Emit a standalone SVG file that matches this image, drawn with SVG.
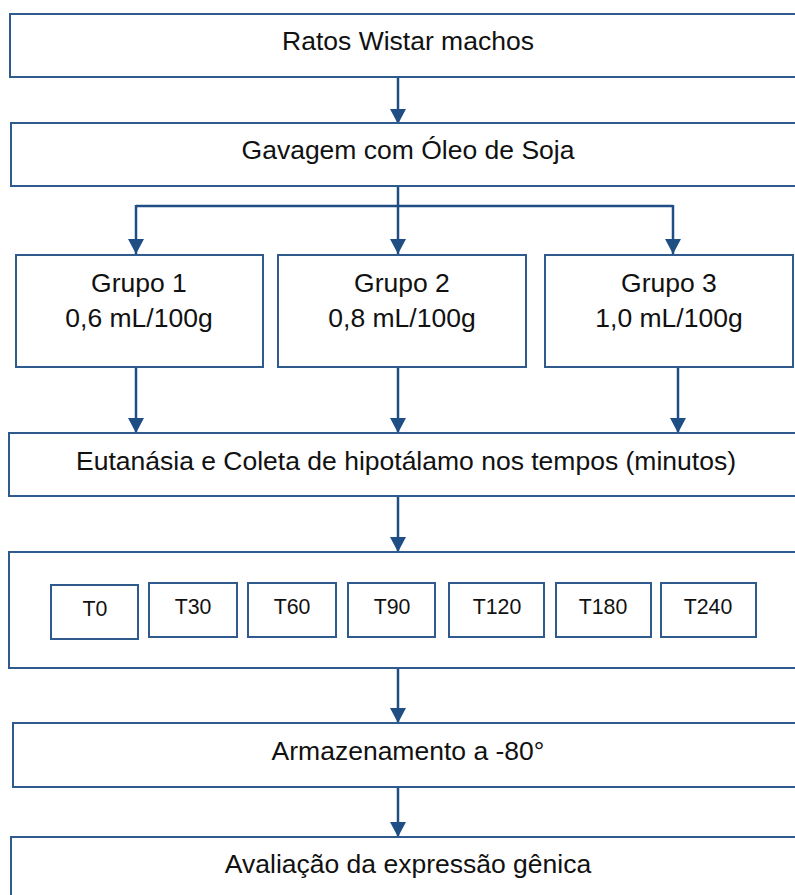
<svg xmlns="http://www.w3.org/2000/svg" width="795" height="895" viewBox="0 0 795 895">
<style>
.box{fill:#fff;stroke:#2f5a8e;stroke-width:2}
.tb{fill:#fff;stroke:#2f5a8e;stroke-width:2}
.lbl{font-family:"Liberation Sans",Arial,sans-serif;font-size:26.5px;fill:#111;text-anchor:middle}
.tl{font-family:"Liberation Sans",Arial,sans-serif;font-size:21.3px;fill:#111;text-anchor:middle}
.con{fill:none;stroke:#1f4e85;stroke-width:2.5}
</style>
<defs>
<marker id="ah" markerUnits="userSpaceOnUse" markerWidth="16" markerHeight="16" refX="15" refY="8" orient="auto">
<path d="M0,0 L15,8 L0,16 z" fill="#1f4e85"/>
</marker>
</defs>
<rect width="795" height="895" fill="#fff"/>
<g id="connectors">
<line class="con" x1="398" y1="77" x2="398" y2="124" marker-end="url(#ah)"/>
<polyline class="con" points="398,186 398,206"/>
<polyline class="con" points="136,206 673,206"/>
<line class="con" x1="136" y1="205" x2="136" y2="254" marker-end="url(#ah)"/>
<line class="con" x1="398" y1="205" x2="398" y2="254" marker-end="url(#ah)"/>
<line class="con" x1="673" y1="205" x2="673" y2="254" marker-end="url(#ah)"/>
<line class="con" x1="136" y1="367" x2="136" y2="433" marker-end="url(#ah)"/>
<line class="con" x1="398" y1="367" x2="398" y2="433" marker-end="url(#ah)"/>
<line class="con" x1="678" y1="367" x2="678" y2="433" marker-end="url(#ah)"/>
<line class="con" x1="398" y1="496" x2="398" y2="552" marker-end="url(#ah)"/>
<line class="con" x1="398" y1="668" x2="398" y2="723" marker-end="url(#ah)"/>
<line class="con" x1="398" y1="787" x2="398" y2="837" marker-end="url(#ah)"/>
</g>
<g id="ratos"><rect class="box" x="10" y="14" width="796" height="63"/><text class="lbl" x="408" y="50">Ratos Wistar machos</text></g>
<g id="gavagem"><rect class="box" x="11" y="123" width="796" height="63"/><text class="lbl" x="408" y="159">Gavagem com Óleo de Soja</text></g>
<g id="grupo1"><rect class="box" x="16" y="255" width="247" height="112"/><text class="lbl" x="139" y="292">Grupo 1</text><text class="lbl" x="139" y="327">0,6 mL/100g</text></g>
<g id="grupo2"><rect class="box" x="278" y="255" width="248" height="112"/><text class="lbl" x="402" y="292">Grupo 2</text><text class="lbl" x="402" y="327">0,8 mL/100g</text></g>
<g id="grupo3"><rect class="box" x="545" y="255" width="248" height="112"/><text class="lbl" x="669" y="292">Grupo 3</text><text class="lbl" x="669" y="327">1,0 mL/100g</text></g>
<g id="eutanasia"><rect class="box" x="9" y="433" width="797" height="63"/><text class="lbl" x="406" y="470">Eutanásia e Coleta de hipotálamo nos tempos (minutos)</text></g>
<g id="tempos"><rect class="box" x="9" y="552" width="797" height="116"/></g>
<g id="t0"><rect class="tb" x="51" y="585" width="87" height="54"/><text class="tl" x="95" y="616">T0</text></g>
<g id="t30"><rect class="tb" x="149" y="583" width="88" height="54"/><text class="tl" x="193" y="614">T30</text></g>
<g id="t60"><rect class="tb" x="248" y="583" width="88" height="54"/><text class="tl" x="292" y="614">T60</text></g>
<g id="t90"><rect class="tb" x="348" y="583" width="87" height="54"/><text class="tl" x="392" y="614">T90</text></g>
<g id="t120"><rect class="tb" x="449" y="583" width="95" height="54"/><text class="tl" x="497" y="614">T120</text></g>
<g id="t180"><rect class="tb" x="556" y="583" width="95" height="54"/><text class="tl" x="603" y="614">T180</text></g>
<g id="t240"><rect class="tb" x="661" y="583" width="95" height="54"/><text class="tl" x="708" y="614">T240</text></g>
<g id="armazenamento"><rect class="box" x="13" y="723" width="794" height="64"/><text class="lbl" x="408" y="760">Armazenamento a -80°</text></g>
<g id="avaliacao"><rect class="box" x="11" y="837" width="796" height="70"/><text class="lbl" x="408" y="873">Avaliação da expressão gênica</text></g>
</svg>
